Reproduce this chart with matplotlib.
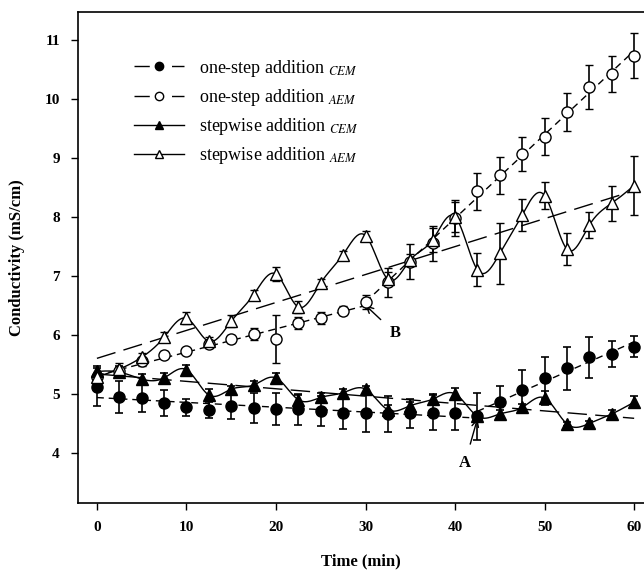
import numpy as np
import matplotlib
matplotlib.use("Agg")
import matplotlib.pyplot as plt
from matplotlib.lines import Line2D

plt.rcParams['font.family'] = ['Liberation Serif', 'DejaVu Serif']
plt.rcParams['mathtext.fontset'] = 'stix'

# ---------------- data ----------------
time = [0, 2.5, 5, 7.5, 10, 12.5, 15, 17.5, 20, 22.5, 25, 27.5, 30,
        32.5, 35, 37.5, 40, 42.5, 45, 47.5, 50, 52.5, 55, 57.5, 60]

onestep_cem = [5.11, 4.95, 4.93, 4.84, 4.77, 4.73, 4.80, 4.76, 4.75, 4.74, 4.71, 4.68, 4.67,
               4.66, 4.67, 4.68, 4.67, 4.62, 4.86, 5.07, 5.27, 5.43, 5.62, 5.67, 5.80]
onestep_cem_err = [0.32, 0.27, 0.23, 0.22, 0.15, 0.14, 0.23, 0.25, 0.27, 0.26, 0.26, 0.28, 0.32,
                   0.30, 0.24, 0.30, 0.28, 0.40, 0.27, 0.33, 0.36, 0.37, 0.35, 0.22, 0.18]

onestep_aem = [5.28, 5.38, 5.55, 5.66, 5.72, 5.84, 5.93, 6.01, 5.93, 6.20, 6.28, 6.41, 6.56,
               6.89, 7.24, 7.55, 7.98, 8.43, 8.70, 9.07, 9.36, 9.77, 10.20, 10.42, 10.73]
onestep_aem_err = [0.08, 0.08, 0.08, 0.06, 0.05, 0.06, 0.07, 0.10, 0.40, 0.10, 0.10, 0.08, 0.12,
                   0.25, 0.30, 0.30, 0.30, 0.31, 0.32, 0.29, 0.32, 0.32, 0.37, 0.30, 0.38]

stepwise_cem = [5.38, 5.37, 5.25, 5.27, 5.41, 4.98, 5.08, 5.15, 5.27, 4.90, 4.94, 5.02, 5.08,
                4.73, 4.80, 4.91, 5.00, 4.62, 4.66, 4.77, 4.93, 4.49, 4.50, 4.66, 4.86]
stepwise_cem_err = [0.10, 0.10, 0.08, 0.08, 0.08, 0.10, 0.06, 0.07, 0.08, 0.08, 0.08, 0.06, 0.06,
                    0.08, 0.06, 0.08, 0.10, 0.06, 0.06, 0.06, 0.12, 0.04, 0.04, 0.06, 0.10]

stepwise_aem = [5.29, 5.42, 5.62, 5.96, 6.28, 5.89, 6.23, 6.68, 7.03, 6.47, 6.88, 7.36, 7.68,
                6.94, 7.27, 7.61, 8.00, 7.10, 7.38, 8.03, 8.36, 7.45, 7.86, 8.23, 8.53]
stepwise_aem_err = [0.08, 0.10, 0.08, 0.08, 0.10, 0.08, 0.10, 0.08, 0.12, 0.10, 0.06, 0.06, 0.08,
                    0.12, 0.10, 0.20, 0.25, 0.28, 0.52, 0.27, 0.23, 0.27, 0.22, 0.30, 0.50]

break_cem = 42.5   # point A
break_aem = 30.0   # point B

labels = [r"one-step addition $_{CEM}$", r"one-step addition $_{AEM}$",
          r"stepwise addition $_{CEM}$", r"stepwise addition $_{AEM}$"]
xticks = [0, 10, 20, 30, 40, 50, 60]
yticks = [4, 5, 6, 7, 8, 9, 10, 11]


def natural_spline(x, y, xs):
    x = np.asarray(x, float); y = np.asarray(y, float)
    n = len(x); h = np.diff(x)
    A = np.zeros((n, n)); b = np.zeros(n)
    A[0, 0] = 1; A[-1, -1] = 1
    for i in range(1, n - 1):
        A[i, i - 1] = h[i - 1]; A[i, i] = 2 * (h[i - 1] + h[i]); A[i, i + 1] = h[i]
        b[i] = 3 * ((y[i + 1] - y[i]) / h[i] - (y[i] - y[i - 1]) / h[i - 1])
    c = np.linalg.solve(A, b)
    bb = (y[1:] - y[:-1]) / h - h * (2 * c[:-1] + c[1:]) / 3
    d = (c[1:] - c[:-1]) / (3 * h)
    idx = np.clip(np.searchsorted(x, xs) - 1, 0, n - 2)
    dx = xs - x[idx]
    return y[idx] + bb[idx] * dx + c[idx] * dx ** 2 + d[idx] * dx ** 3


def seg_fit(t, v, t0, t1):
    t = np.asarray(t); v = np.asarray(v)
    m = (t >= t0) & (t <= t1)
    p = np.polyfit(t[m], v[m], 1)
    xs = np.array([t0, t1])
    return xs, np.polyval(p, xs)


fig = plt.figure(figsize=(6.44, 5.71), dpi=100)
ax = fig.add_axes([0.121, 0.119, 0.879, 0.860])

t = np.array(time)
short_dash = (0, (5, 3.5))
long_dash = (0, (14, 6))
lw = 1.0

# one-step lines: piecewise linear fits
for vals, tb in [(onestep_cem, break_cem), (onestep_aem, break_aem)]:
    xs, ys = seg_fit(t, vals, 0, tb)
    ax.plot(xs, ys, color='black', lw=lw, linestyle=short_dash, zorder=2)
    xs, ys = seg_fit(t, vals, tb, 60)
    ax.plot(xs, ys, color='black', lw=lw, linestyle=short_dash, zorder=2)

# stepwise: spline curves + linear regression
ts = np.linspace(0, 60, 600)
for vals in [stepwise_cem, stepwise_aem]:
    ax.plot(ts, natural_spline(t, vals, ts), color='black', lw=lw, zorder=2)
    xs, ys = seg_fit(t, vals, 0, 60)
    ax.plot(xs, ys, color='black', lw=lw, linestyle=long_dash, zorder=2)

ekw = dict(ecolor='black', elinewidth=1.2, capsize=3, capthick=1.2, linestyle='none', zorder=3)
ax.errorbar(t, onestep_cem, yerr=onestep_cem_err, marker='o', ms=8, mfc='black', mec='black', **ekw)
ax.errorbar(t, onestep_aem, yerr=onestep_aem_err, marker='o', ms=8, mfc='white', mec='black', mew=1, **ekw)
ax.errorbar(t, stepwise_cem, yerr=stepwise_cem_err, marker='^', ms=8, mfc='black', mec='black', **ekw)
ax.errorbar(t, stepwise_aem, yerr=stepwise_aem_err, marker='^', ms=8, mfc='white', mec='black', mew=1, **ekw)

# annotations
ax.annotate('A', xy=(42.5, 4.58), xytext=(41.1, 3.83), ha='center', va='center',
            fontsize=12, fontweight='bold',
            arrowprops=dict(arrowstyle='->', color='black', lw=1.0, shrinkA=6, shrinkB=0))
ax.annotate('B', xy=(30.0, 6.50), xytext=(33.3, 6.03), ha='center', va='center',
            fontsize=12, fontweight='bold',
            arrowprops=dict(arrowstyle='->', color='black', lw=1.0, shrinkA=6, shrinkB=0))

ax.set_xlim(-2.12, 61.1)
ax.set_ylim(3.15, 11.47)
ax.set_xticks(xticks)
ax.set_yticks(yticks)
ax.set_xticklabels([str(v) for v in xticks], fontweight='bold', fontsize=11)
ax.set_yticklabels([str(v) for v in yticks], fontweight='bold', fontsize=11)
ax.tick_params(direction='out', length=5, width=1, pad=8)
ax.spines['right'].set_visible(False)
for s in ['left', 'bottom', 'top']:
    ax.spines[s].set_linewidth(1.2)

ax.set_xlabel('Time (min)', fontweight='bold', fontsize=12, labelpad=14)
ax.set_ylabel('Conductivity (mS/cm)', fontweight='bold', fontsize=12, labelpad=14)

leg_dash = (0, (11, 16))
handles = [
    Line2D([], [], color='black', lw=lw, linestyle=leg_dash, marker='o', mfc='black', mec='black', ms=6),
    Line2D([], [], color='black', lw=lw, linestyle=leg_dash, marker='o', mfc='white', mec='black', ms=6),
    Line2D([], [], color='black', lw=lw, marker='^', mfc='black', mec='black', ms=6),
    Line2D([], [], color='black', lw=lw, marker='^', mfc='white', mec='black', ms=6),
]
ax.legend(handles, labels, loc='upper left', bbox_to_anchor=(0.07, 0.94), frameon=False,
          fontsize=13, handlelength=2.8, handletextpad=0.8, labelspacing=0.45)

fig.savefig('out.png', dpi=100)
